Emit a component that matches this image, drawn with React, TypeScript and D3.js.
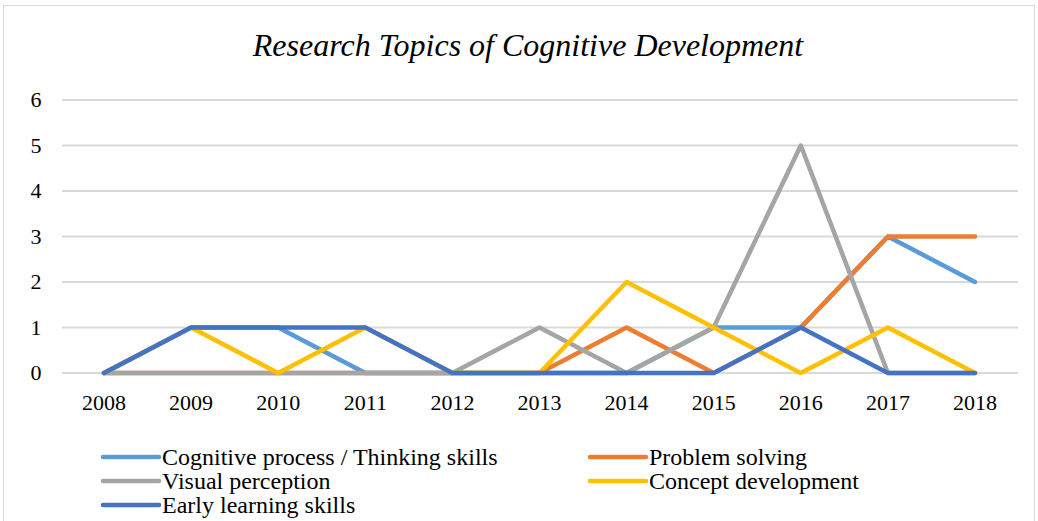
import React from "react";
import * as d3 from "d3";

const years = ["2008","2009","2010","2011","2012","2013","2014","2015","2016","2017","2018"];
const cognitiveProcess = [0,1,1,0,0,0,0,1,1,3,2];
const problemSolving = [0,0,0,0,0,0,1,0,1,3,3];
const visualPerception = [0,0,0,0,0,1,0,1,5,0,0];
const conceptDevelopment = [0,1,0,1,0,0,2,1,0,1,0];
const earlyLearning = [0,1,1,1,0,0,0,0,1,0,0];
const yTicks = [0,1,2,3,4,5,6];

const seriesNames = [
  "Cognitive process / Thinking skills",
  "Problem solving",
  "Visual perception",
  "Concept development",
  "Early learning skills",
];
const seriesValues = [cognitiveProcess, problemSolving, visualPerception, conceptDevelopment, earlyLearning];
const colors = ["#5B9BD5", "#ED7D31", "#A5A5A5", "#FFC000", "#4472C4"];

const W = 1038, H = 521;
const FONT = "'Liberation Serif', 'Times New Roman', serif";

export default function App() {
  const x = d3.scalePoint<string>().domain(years).range([104, 975]);
  const y = d3.scaleLinear().domain([0, 6]).range([373, 100]);
  const line = d3.line<number>().x((_, i) => x(years[i]) as number).y((d) => y(d));

  const legendPos = [
    { x: 103, y: 457 },
    { x: 590, y: 457 },
    { x: 103, y: 481 },
    { x: 590, y: 481 },
    { x: 103, y: 505 },
  ];

  return (
    <svg width={W} height={H} style={{ position: "absolute", left: 0, top: 0 }} xmlns="http://www.w3.org/2000/svg">
      <rect x={0} y={0} width={W} height={H} fill="#fff" />
      <rect x={3.5} y={5.5} width={1031} height={520} fill="none" stroke="#d9d9d9" strokeWidth={1} />
      <text x={528} y={56} textAnchor="middle" fontFamily={FONT} fontStyle="italic" fontSize={32} fill="#000">
        Research Topics of Cognitive Development
      </text>
      {yTicks.map((t) => (
        <g key={t}>
          <line x1={62} x2={1018} y1={y(t)} y2={y(t)} stroke="#d9d9d9" strokeWidth={2} />
          <text x={36} y={y(t) + 7} textAnchor="middle" fontFamily={FONT} fontSize={22} fill="#000">{t}</text>
        </g>
      ))}
      {years.map((yr) => (
        <text key={yr} x={x(yr)} y={410} textAnchor="middle" fontFamily={FONT} fontSize={22} fill="#000">{yr}</text>
      ))}
      {seriesValues.map((vals, i) => (
        <path key={i} d={line(vals) || ""} fill="none" stroke={colors[i]} strokeWidth={4.5} strokeLinejoin="round" strokeLinecap="round" />
      ))}
      {seriesNames.map((n, i) => (
        <g key={n}>
          <line x1={legendPos[i].x} x2={legendPos[i].x + 56} y1={legendPos[i].y} y2={legendPos[i].y} stroke={colors[i]} strokeWidth={4.5} strokeLinecap="round" />
          <text x={legendPos[i].x + 59} y={legendPos[i].y + 8} fontFamily={FONT} fontSize={24} fill="#000">{n}</text>
        </g>
      ))}
    </svg>
  );
}
